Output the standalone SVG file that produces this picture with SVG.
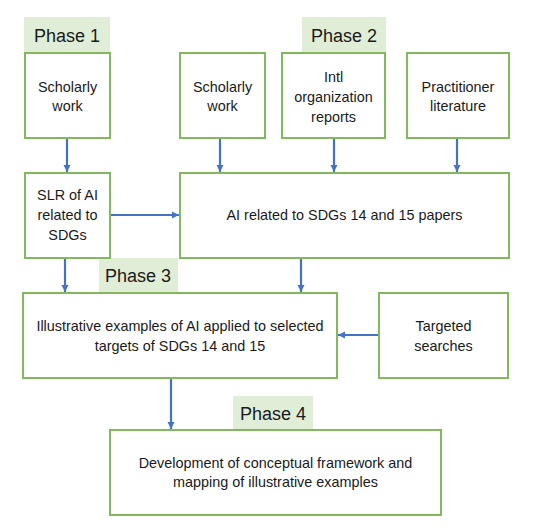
<svg xmlns="http://www.w3.org/2000/svg" width="550" height="528" viewBox="0 0 550 528">
<defs>
<marker id="ah" viewBox="0 0 10 10" refX="10" refY="5" markerWidth="3.2" markerHeight="3.2" orient="auto" markerUnits="strokeWidth">
<path d="M0,0 L10,5 L0,10 z" fill="#4472c4"/>
</marker>
</defs>
<style>
.box{fill:#fff;stroke:#82b95e;stroke-width:2}
.ph{fill:#e0eed8}
.pt{font-family:"Liberation Sans",Arial,sans-serif;font-size:18px;fill:#1a1a1a;text-anchor:middle}
.t{font-family:"Liberation Sans",Arial,sans-serif;font-size:14.4px;fill:#1a1a1a;text-anchor:middle}
.c{stroke:#4472c4;stroke-width:2.2;fill:none;marker-end:url(#ah)}
</style>
<rect width="550" height="528" fill="#fff"/>
<g id="phase1"><rect class="ph" x="24" y="17" width="86" height="36"/><text class="pt" x="67" y="42">Phase 1</text></g>
<g id="phase2"><rect class="ph" x="302" y="17" width="84" height="36"/><text class="pt" x="344" y="42">Phase 2</text></g>
<g id="phase3"><rect class="ph" x="99" y="258" width="79" height="35"/><text class="pt" x="138" y="282">Phase 3</text></g>
<g id="phase4"><rect class="ph" x="233" y="396" width="80" height="34"/><text class="pt" x="273" y="420">Phase 4</text></g>
<g id="scholarly1"><rect class="box" x="25" y="53" width="85" height="85"/><text class="t" x="67.5" y="92">Scholarly</text><text class="t" x="67.5" y="111">work</text></g>
<g id="scholarly2"><rect class="box" x="180" y="53" width="85" height="85"/><text class="t" x="222.5" y="92">Scholarly</text><text class="t" x="222.5" y="111">work</text></g>
<g id="intl"><rect class="box" x="282" y="53" width="103" height="85"/><text class="t" x="333.5" y="82">Intl</text><text class="t" x="333.5" y="102">organization</text><text class="t" x="333.5" y="122">reports</text></g>
<g id="practitioner"><rect class="box" x="407" y="53" width="102" height="85"/><text class="t" x="458" y="92">Practitioner</text><text class="t" x="458" y="111">literature</text></g>
<g id="slr"><rect class="box" x="25" y="173" width="85" height="85"/><text class="t" x="67.5" y="200">SLR of AI</text><text class="t" x="67.5" y="220">related to</text><text class="t" x="67.5" y="240">SDGs</text></g>
<g id="airelated"><rect class="box" x="180" y="173" width="329" height="85"/><text class="t" x="344.5" y="220">AI related to SDGs 14 and 15 papers</text></g>
<g id="illustrative"><rect class="box" x="23" y="293" width="314" height="85"/><text class="t" x="180" y="331">Illustrative examples of AI applied to selected</text><text class="t" x="180" y="351">targets of SDGs 14 and 15</text></g>
<g id="targeted"><rect class="box" x="379" y="293" width="129" height="85"/><text class="t" x="443.5" y="331">Targeted</text><text class="t" x="443.5" y="351">searches</text></g>
<g id="development"><rect class="box" x="110" y="430" width="331" height="85"/><text class="t" x="275.5" y="468">Development of conceptual framework and</text><text class="t" x="275.5" y="487">mapping of illustrative examples</text></g>
<g id="connectors">
<line class="c" x1="67" y1="139" x2="67" y2="172"/>
<line class="c" x1="220" y1="139" x2="220" y2="172"/>
<line class="c" x1="334" y1="139" x2="334" y2="172"/>
<line class="c" x1="457" y1="139" x2="457" y2="172"/>
<line class="c" x1="111" y1="215" x2="179" y2="215"/>
<line class="c" x1="65" y1="259" x2="65" y2="292"/>
<line class="c" x1="301" y1="259" x2="301" y2="292"/>
<line class="c" x1="378" y1="335" x2="338" y2="335"/>
<line class="c" x1="171" y1="379" x2="171" y2="429"/>
</g>
</svg>
